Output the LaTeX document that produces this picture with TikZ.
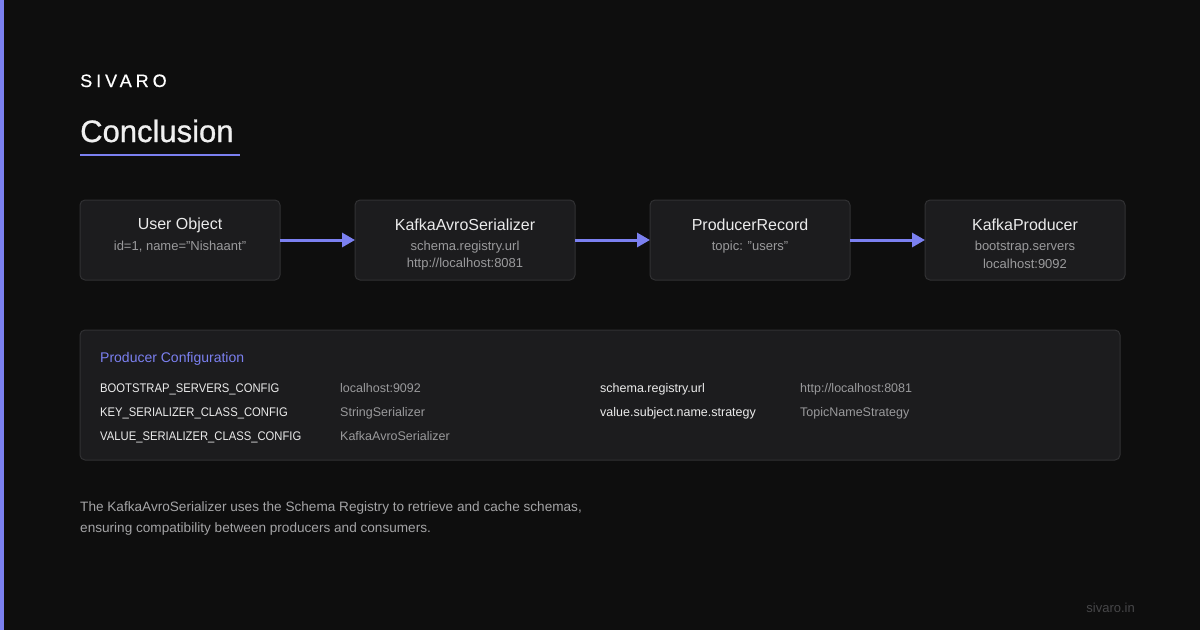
\documentclass[tikz,border=0pt]{standalone}
\usepackage{fontspec}
\setmainfont{Liberation Sans}
\usetikzlibrary{arrows.meta}
\definecolor{bg}{HTML}{0E0E0E}
\definecolor{accent}{HTML}{7B80F0}
\definecolor{boxfill}{HTML}{1C1C1E}
\definecolor{boxline}{HTML}{313133}
\definecolor{sub}{HTML}{9A9A9C}
\definecolor{para}{HTML}{A4A4A6}
\definecolor{foot}{HTML}{474749}
\newcommand{\narrowcaps}[1]{\scalebox{0.9}[1]{#1}}
\tikzset{
  stagebox/.style={draw=boxline, line width=1pt, fill=boxfill, rounded corners=5pt},
  ttl/.style={text=white!92!black, font=\fontsize{16}{19}\selectfont, anchor=center},
  subt/.style={text=sub, font=\fontsize{13}{16}\selectfont, anchor=center},
  flow/.style={draw=accent, line width=3pt, -{Triangle[length=13pt,width=14pt]}},
  key/.style={text=white!92!black, font=\fontsize{12.5}{15}\selectfont, anchor=base west},
  val/.style={text=sub, font=\fontsize{12.5}{15}\selectfont, anchor=base west},
}
\begin{document}
\begin{tikzpicture}[x=1pt,y=-1pt]
\fill[bg] (0,0) rectangle (1200,630);
\useasboundingbox (0,0) rectangle (1200,630);
\fill[accent] (0,0) rectangle (4,630);
% header
\node[anchor=base west, inner sep=0, text=white, font=\fontsize{18}{20}\selectfont\addfontfeature{LetterSpace=22,FakeBold=0.6}] (brand) at (80,87) {SIVARO};
\node[anchor=base west, inner sep=0, text=white!94!black, font=\fontsize{31}{34}\selectfont\addfontfeature{FakeBold=0.8}] (title) at (80,142) {Conclusion};
\draw[accent, line width=2pt] (80,155) -- (240,155);
% stages
\draw[stagebox] (80,200) rectangle (280,280);
\draw[stagebox] (355,200) rectangle (575,280);
\draw[stagebox] (650,200) rectangle (850,280);
\draw[stagebox] (925,200) rectangle (1125,280);
\coordinate (s1) at (280,240);
\coordinate (s2w) at (355,240);
\coordinate (s2e) at (575,240);
\coordinate (s3w) at (650,240);
\coordinate (s3e) at (850,240);
\coordinate (s4) at (925,240);
\node[ttl] (t1) at (180,225) {User Object};
\node[subt] (u1) at (180,247) {id=1, name="Nishaant"};
\node[ttl] (t2) at (465,225) {KafkaAvroSerializer};
\node[subt] (u2) at (465,247) {schema.registry.url};
\node[subt] (v2) at (465,264) {http://localhost:8081};
\node[ttl] (t3) at (750,225) {ProducerRecord};
\node[subt] (u3) at (750,247) {topic: "users"};
\node[ttl] (t4) at (1025,225) {KafkaProducer};
\node[subt] (u4) at (1025,247) {bootstrap.servers};
\node[subt] (v4) at (1025,264) {localhost:9092};
\draw[flow] (s1) -- (s2w);
\draw[flow] (s2e) -- (s3w);
\draw[flow] (s3e) -- (s4);
% config panel
\draw[stagebox] (80,330) rectangle (1120,460);
\node[anchor=base west, inner sep=0, text=accent, font=\fontsize{14}{17}\selectfont] (cfg) at (100,362) {Producer Configuration};
\node[key, inner sep=0] (k1) at (100,392) {\narrowcaps{BOOTSTRAP\_SERVERS\_CONFIG}};
\node[val, inner sep=0] (w1) at (340,392) {localhost:9092};
\node[key, inner sep=0] (k2) at (100,416) {\narrowcaps{KEY\_SERIALIZER\_CLASS\_CONFIG}};
\node[val, inner sep=0] (w2) at (340,416) {StringSerializer};
\node[key, inner sep=0] (k3) at (100,440) {\narrowcaps{VALUE\_SERIALIZER\_CLASS\_CONFIG}};
\node[val, inner sep=0] (w3) at (340,440) {KafkaAvroSerializer};
\node[key, inner sep=0] (k4) at (600,392) {schema.registry.url};
\node[val, inner sep=0] (w4) at (800,392) {http://localhost:8081};
\node[key, inner sep=0] (k5) at (600,416) {value.subject.name.strategy};
\node[val, inner sep=0] (w5) at (800,416) {TopicNameStrategy};
% paragraph
\node[anchor=base west, inner sep=0, text=para, font=\fontsize{13.6}{16}\selectfont] (p1) at (80,511) {The KafkaAvroSerializer uses the Schema Registry to retrieve and cache schemas,};
\node[anchor=base west, inner sep=0, text=para, font=\fontsize{13.6}{16}\selectfont] (p2) at (80,532) {ensuring compatibility between producers and consumers.};
% footer
\node[anchor=base east, inner sep=0, text=foot, font=\fontsize{13}{15}\selectfont] (ft) at (1135,612) {sivaro.in};
\end{tikzpicture}
\end{document}
